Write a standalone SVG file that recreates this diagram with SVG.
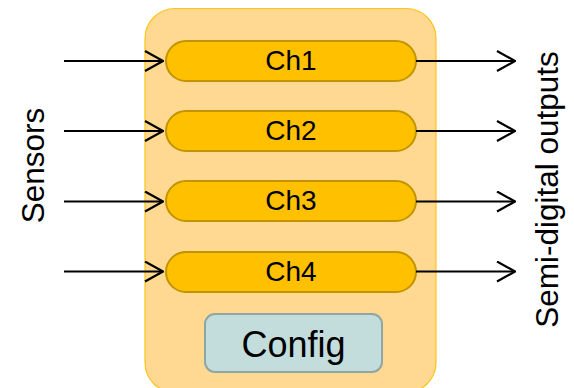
<svg xmlns="http://www.w3.org/2000/svg" width="574" height="388" viewBox="0 0 574 388">
  <style>
    .lbl { font-family: "Liberation Sans", Arial, sans-serif; fill: #000; text-anchor: middle; }
    .ch { fill: #FFC000; stroke: #C29400; stroke-width: 2; }
    .wire { stroke: #000; stroke-width: 2; fill: none; marker-end: url(#open); }
  </style>
  <defs>
    <marker id="open" viewBox="0 0 20 22" refX="19" refY="11" markerWidth="20" markerHeight="22" markerUnits="userSpaceOnUse" orient="auto">
      <path d="M1,1 L19,11 L1,21" fill="none" stroke="#000" stroke-width="2.2"/>
    </marker>
  </defs>
  <rect width="574" height="388" fill="#fff"/>

  <!-- enclosing block -->
  <g id="block">
    <rect x="145" y="8.5" width="291" height="384" rx="30" fill="#FFD991" stroke="#FFC31A" stroke-width="1.2"/>
  </g>

  <g id="ch1">
    <rect class="ch" x="166" y="41" width="250" height="40" rx="20"/>
    <text class="lbl" x="291" y="70" font-size="28">Ch1</text>
  </g>
  <g id="ch2">
    <rect class="ch" x="166" y="111" width="250" height="40" rx="20"/>
    <text class="lbl" x="291" y="140" font-size="28">Ch2</text>
  </g>
  <g id="ch3">
    <rect class="ch" x="166" y="181" width="250" height="40" rx="20"/>
    <text class="lbl" x="291" y="210" font-size="28">Ch3</text>
  </g>
  <g id="ch4">
    <rect class="ch" x="166" y="252" width="250" height="40" rx="20"/>
    <text class="lbl" x="291" y="281" font-size="28">Ch4</text>
  </g>

  <g id="config">
    <rect x="205" y="314" width="177" height="58" rx="10" fill="#C3DCDC" stroke="#8FA6A6" stroke-width="2"/>
    <text class="lbl" x="293.5" y="357" font-size="36">Config</text>
  </g>

  <g id="sensors">
    <text class="lbl" font-size="31.5" transform="translate(44,165.5) rotate(-90)">Sensors</text>
  </g>
  <g id="outputs">
    <text class="lbl" font-size="31.5" transform="translate(558,189.5) rotate(-90)">Semi-digital outputs</text>
  </g>

  <g id="connectors">
    <line class="wire" x1="64" y1="61" x2="163" y2="61"/>
    <line class="wire" x1="64" y1="131" x2="163" y2="131"/>
    <line class="wire" x1="64" y1="201.5" x2="163" y2="201.5"/>
    <line class="wire" x1="64" y1="271.5" x2="163" y2="271.5"/>
    <line class="wire" x1="416" y1="61" x2="515" y2="61"/>
    <line class="wire" x1="416" y1="131" x2="515" y2="131"/>
    <line class="wire" x1="416" y1="201.5" x2="515" y2="201.5"/>
    <line class="wire" x1="416" y1="271.5" x2="515" y2="271.5"/>
  </g>
</svg>
